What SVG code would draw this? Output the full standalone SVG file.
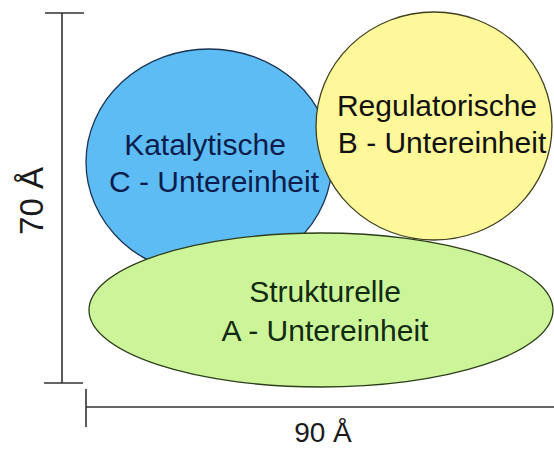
<svg xmlns="http://www.w3.org/2000/svg" width="554" height="449" viewBox="0 0 554 449">
<style>
.lbl{font-family:"Liberation Sans",Arial,sans-serif;font-size:30px;text-anchor:middle}
.dim{fill:none;stroke:#333;stroke-width:1.6}
.dimtxt{font-family:"Liberation Sans",Arial,sans-serif;fill:#1a1a1a;text-anchor:middle}
</style>
<rect width="554" height="449" fill="#fff"/>
<g id="catalytic">
<ellipse cx="209" cy="162" rx="123" ry="113" fill="#5DBCF4" stroke="#1B3452" stroke-width="1.3"/>
<text class="lbl" x="205" y="155" fill="#0B1C4D">Katalytische</text>
<text class="lbl" x="214" y="192" fill="#0B1C4D">C - Untereinheit</text>
</g>
<g id="regulatory">
<ellipse cx="434" cy="126" rx="118" ry="114" fill="#FFF89A" stroke="#3F4020" stroke-width="1.3"/>
<text class="lbl" x="437" y="116" fill="#111">Regulatorische</text>
<text class="lbl" x="442" y="153" fill="#111">B - Untereinheit</text>
</g>
<g id="structural">
<ellipse cx="321" cy="310" rx="232" ry="77" fill="#CCF59A" stroke="#2D3D1A" stroke-width="1.3"/>
<text class="lbl" x="325" y="302" fill="#112A11">Strukturelle</text>
<text class="lbl" x="325" y="341" fill="#112A11">A - Untereinheit</text>
</g>
<g id="connectors">
<path class="dim" d="M45 13H84M62 13V383M44 383H83"/>
<path class="dim" d="M86 389V427M86 407H554"/>
<text class="dimtxt" font-size="33" transform="translate(43 201) rotate(-90)">70 Å</text>
<text class="dimtxt" font-size="28" x="323" y="442">90 Å</text>
</g>
</svg>
